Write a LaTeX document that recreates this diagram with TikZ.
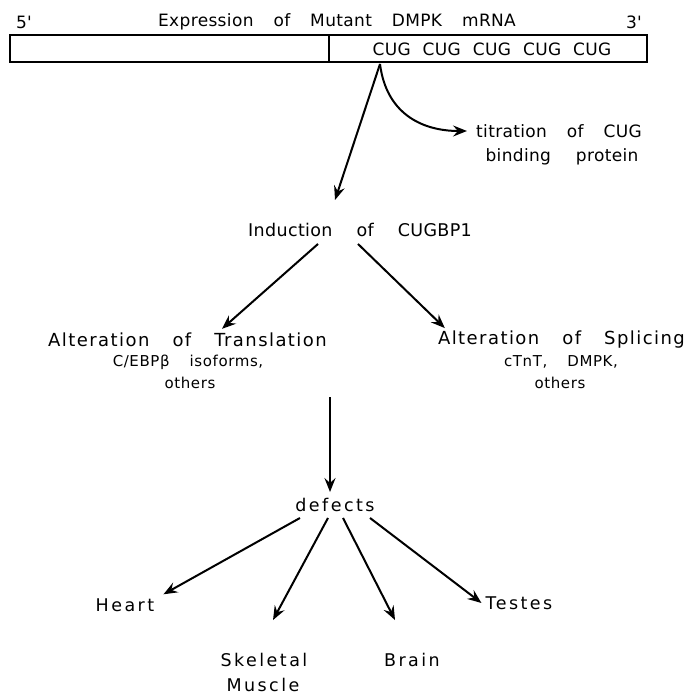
\documentclass[tikz,border=0pt]{standalone}
\usepackage{fontspec}
\setmainfont{DejaVu Sans}
\newfontfamily\famtight[LetterSpace=2]{DejaVu Sans}
\newfontfamily\famspaced[LetterSpace=8]{DejaVu Sans}
\newfontfamily\famsub[LetterSpace=4]{DejaVu Sans}
\newfontfamily\famorgan[LetterSpace=14]{DejaVu Sans}
\newcommand\lblfont{\famtight\fontsize{17}{19}\selectfont\spaceskip=20pt\relax}
\newcommand\seqfont{\famtight\fontsize{17}{19}\selectfont\spaceskip=12pt\relax}
\newcommand\bindfont{\famtight\fontsize{17}{19}\selectfont\spaceskip=25pt\relax}
\newcommand\indfont{\famtight\fontsize{17.5}{20}\selectfont\spaceskip=24pt\relax}
\newcommand\altfont{\famspaced\fontsize{18}{20}\selectfont\spaceskip=23pt\relax}
\newcommand\subsfont{\famsub\fontsize{15}{17}\selectfont\spaceskip=20pt\relax}
\newcommand\organfont{\famorgan\fontsize{17.5}{20}\selectfont}
\usetikzlibrary{arrows.meta, calc}

\begin{document}
\begin{tikzpicture}[x=1pt, y=-1pt,
        lbl/.style={inner sep=1pt, font=\lblfont},
        cugs/.style={inner sep=1pt, font=\seqfont},
        big/.style={inner sep=1pt, font=\indfont},
        alt/.style={inner sep=1pt, font=\altfont},
        sub/.style={inner sep=1pt, font=\subsfont},
        organ/.style={inner sep=1pt, font=\organfont},
        arr/.style={line width=2pt, -{Stealth[length=14pt, width=11pt, inset=5pt]}}]
        \useasboundingbox (0,0) rectangle (687,695);

        % the mRNA
        \node[lbl] (fivep) at (24,22) {5'};
        \node[lbl] (title) at (337,22) {Expression of Mutant DMPK mRNA};
        \node[lbl] (threep) at (634,22) {3'};
        \draw[line width=1.3pt] (10,35) rectangle (647,62);
        \draw[line width=1.3pt] (329,35) -- (329,62);
        \node[cugs] (cug) at (492,49) {CUG CUG CUG CUG CUG};
        \coordinate (src) at (380,64);
        \coordinate (tip) at (335,200);

        \node[lbl, anchor=west] (titr) at (475,131) {titration of CUG};
        \node[lbl, font=\bindfont] (bind) at (562,157) {binding protein};
        \draw[arr] (src) -- (tip);
        \draw[arr, shorten >=8pt] (src) .. controls (386,112) and (420,131) .. (titr.west);

        % CUGBP1 and its targets
        \node[big] (ind) at (360,230) {Induction of CUGBP1};
        \node[alt, anchor=west] (trans) at (47,340) {Alteration of Translation};
        \node[sub] (transa) at (188,362) {C/EBPβ isoforms,};
        \node[sub] (transb) at (190,383) {others};
        \node[alt, anchor=east] (spl) at (686,340) {Alteration of Splicing};
        \node[sub] (spla) at (561,362) {cTnT, DMPK,};
        \node[sub] (splb) at (560,383) {others};
        \draw[arr] ($(ind.south)+(-42,6)$) -- ($(trans.north west)+(175,-3)$);
        \draw[arr] ($(ind.south)+(-2,6)$) -- ($(spl.north west)+(8,-2)$);

        % defects
        \coordinate (mid) at (330,397);
        \node[organ] (def) at (335,505) {defects};
        \draw[arr] (mid) -- ($(def.north -| mid)+(0,-5)$);

        \node[organ] (heart) at (125,605) {Heart};
        \node[organ] (testes) at (519,603) {Testes};
        \node[organ] (skel) at (264,660) {Skeletal};
        \node[organ] (musc) at (263,685) {Muscle};
        \node[organ] (brain) at (412,660) {Brain};
        \draw[arr] ($(def.south)+(-35,5)$) -- ($(heart.north east)+(8,-3)$);
        \draw[arr] ($(def.south)+(-7,5)$) -- ($(skel.north)+(9,-32)$);
        \draw[arr] ($(def.south)+(8,5)$) -- ($(brain.north)+(-17,-32)$);
        \draw[arr] ($(def.south)+(35,5)$) -- ($(testes.west)+(-3,0)$);
\end{tikzpicture}
\end{document}
